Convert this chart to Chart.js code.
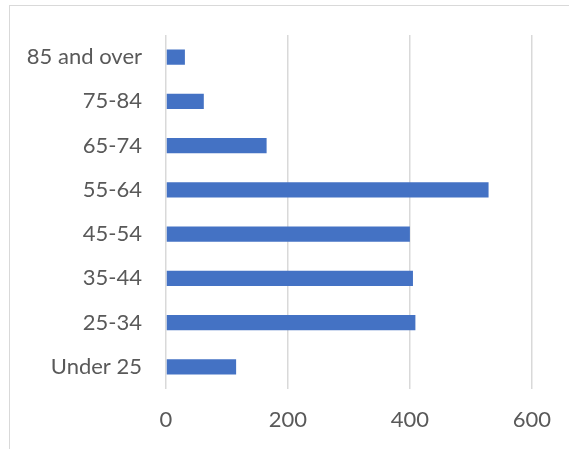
<!DOCTYPE html>
<html>
<head>
<meta charset="utf-8">
<script src="https://cdn.jsdelivr.net/npm/chart.js@4.4.0/dist/chart.umd.min.js"></script>
<style>
  body { margin: 0; background: #fff; }
  #wrap { position: relative; width: 569px; height: 449px; }
  #frame { position: absolute; left: 9px; top: 5px; right: -5px; bottom: -5px; border-left: 1px solid #d9d9d9; border-top: 1px solid #d9d9d9; }
  canvas { position: absolute; left: 0; top: 0; }
</style>
</head>
<body>
<div id="wrap">
  <div id="frame"></div>
  <canvas id="chart" width="569" height="449"></canvas>
</div>
<script>
const categories = ['85 and over', '75-84', '65-74', '55-64', '45-54', '35-44', '25-34', 'Under 25'];
const values = [31, 62, 165, 529, 400, 405, 409, 115];
const xTicks = [0, 200, 400, 600];

const font = { family: "Lato, 'Open Sans', sans-serif", size: 22 };

new Chart(document.getElementById('chart'), {
  type: 'bar',
  data: {
    labels: categories,
    datasets: [{ data: values, backgroundColor: '#4472C4', barPercentage: 0.34, categoryPercentage: 1 }]
  },
  options: {
    indexAxis: 'y',
    responsive: false,
    animation: false,
    layout: { padding: { top: 35, right: 36, left: 0, bottom: 0 } },
    plugins: { legend: { display: false }, tooltip: { enabled: false } },
    scales: {
      x: {
        min: xTicks[0], max: xTicks[xTicks.length - 1],
        afterBuildTicks: s => { s.ticks = xTicks.map(v => ({ value: v })); },
        afterFit: s => { s.height = 60; },
        grid: { color: '#d9d9d9', lineWidth: 1.5, drawTicks: false },
        border: { display: false },
        ticks: { color: '#595959', font, padding: 18 }
      },
      y: {
        afterFit: s => { s.width = 166; },
        grid: { display: false },
        border: { display: false },
        ticks: { color: '#595959', font, padding: 16 }
      }
    }
  }
});
</script>
</body>
</html>
